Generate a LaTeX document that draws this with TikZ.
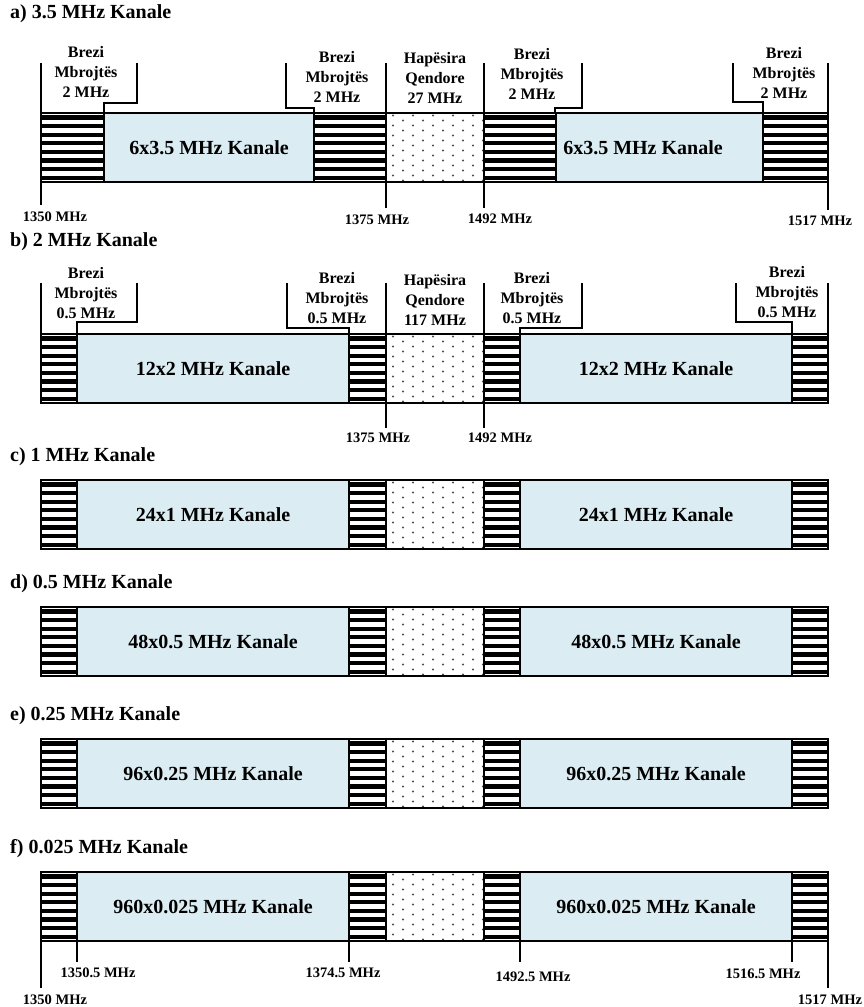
\documentclass[tikz,border=0pt]{standalone}
\usepackage{fontspec}
\setmainfont{Liberation Serif}
\definecolor{chan}{RGB}{219,237,243}

\tikzset{
  bar/.style={draw=black, line width=1.4pt},
  tick/.style={line width=1.2pt},
  ttl/.style={font=\bfseries\fontsize{20}{24}\selectfont, anchor=west, inner sep=0pt},
  chanlbl/.style={font=\bfseries\fontsize{20}{24}\selectfont, inner sep=0pt},
  lbl/.style={font=\bfseries\fontsize{16}{20}\selectfont, align=center, inner sep=0pt},
  freq/.style={font=\bfseries\fontsize{14.5}{16}\selectfont, inner sep=0pt}
}

% striped guard band: x from, x to, top
\newcommand{\guardband}[3]{%
  \fill[white] (#1,#3) rectangle (#2,#3+69);
  \foreach \k in {0,...,7}
    \fill[black] (#1,#3+2.3+\k*8.625) rectangle (#2,#3+6.5+\k*8.625);
  \draw[bar] (#1,#3) rectangle (#2,#3+69);
}

% dotted central gap: top
\newcommand{\gapband}[1]{%
  \fill[white] (386,#1) rectangle (484,#1+69);
  \foreach \j in {0,...,13} {
    \pgfmathsetmacro\off{mod(\j,2)*10}
    \foreach \i in {0,...,4}
      \fill[black!70] (393+\off+20*\i,#1+2.5+5*\j) circle (1.05pt);
  }
  \draw[bar] (386,#1) rectangle (484,#1+69);
}

% one band plan: top, x1, x2, x3, x4
\newcommand{\bandrow}[5]{%
  \guardband{41}{#2}{#1}
  \draw[bar, fill=chan] (#2,#1) rectangle (#3,#1+69);
  \guardband{#3}{386}{#1}
  \gapband{#1}
  \guardband{484}{#4}{#1}
  \draw[bar, fill=chan] (#4,#1) rectangle (#5,#1+69);
  \guardband{#5}{828}{#1}
  \draw[bar] (41,#1) rectangle (828,#1+69);
}

\begin{document}
\begin{tikzpicture}[x=1pt, y=-1pt]
  \useasboundingbox (0,0) rectangle (863,1007);

  % a) 3.5 MHz
  \node[ttl] (ta) at (10,14) {a) 3.5 MHz Kanale};
  \bandrow{113}{104}{314}{556}{763}
  \node[chanlbl] (la) at (209,148) {6x3.5 MHz Kanale};
  \node[chanlbl] (ra) at (643,148) {6x3.5 MHz Kanale};

  \draw[tick] (41,63) -- (41,205);
  \draw[tick] (137,63) |- (104,103) -- (104,113);
  \draw[tick] (286,63) |- (314,108) -- (314,113);
  \draw[tick] (386,63) -- (386,208);
  \draw[tick] (484,63) -- (484,208);
  \draw[tick] (582,63) |- (555,108) -- (555,113);
  \draw[tick] (733,63) |- (763,102) -- (763,113);
  \draw[tick] (828,63) -- (828,210);

  \node[lbl] (ga1) at (86,72) {Brezi\\Mbrojtës\\2 MHz};
  \node[lbl] (ga2) at (337,77) {Brezi\\Mbrojtës\\2 MHz};
  \node[lbl] (gapa) at (435,78) {Hapësira\\Qendore\\27 MHz};
  \node[lbl] (ga3) at (532,74) {Brezi\\Mbrojtës\\2 MHz};
  \node[lbl] (ga4) at (784,73) {Brezi\\Mbrojtës\\2 MHz};

  \node[freq] (fa1) at (55,217) {1350 MHz};
  \node[freq] (fa2) at (377,220) {1375 MHz};
  \node[freq] (fa3) at (500,219) {1492 MHz};
  \node[freq] (fa4) at (820,221) {1517 MHz};

  % b) 2 MHz
  \node[ttl] (tb) at (10,242) {b) 2 MHz Kanale};
  \bandrow{334}{77}{349}{520}{792}
  \node[chanlbl] (lb) at (213,368.5) {12x2 MHz Kanale};
  \node[chanlbl] (rb) at (656,368.5) {12x2 MHz Kanale};

  \draw[tick] (41,283) -- (41,334);
  \draw[tick] (137,283) |- (77,322) -- (77,334);
  \draw[tick] (287,283) |- (349,328) -- (349,334);
  \draw[tick] (386,283) -- (386,428);
  \draw[tick] (484,283) -- (484,428);
  \draw[tick] (582,283) |- (520,328) -- (520,334);
  \draw[tick] (736,283) |- (792,322) -- (792,334);
  \draw[tick] (828,283) -- (828,334);

  \node[lbl] (gb1) at (86,293) {Brezi\\Mbrojtës\\0.5 MHz};
  \node[lbl] (gb2) at (337,298) {Brezi\\Mbrojtës\\0.5 MHz};
  \node[lbl] (gapb) at (435,300) {Hapësira\\Qendore\\117 MHz};
  \node[lbl] (gb3) at (532,298) {Brezi\\Mbrojtës\\0.5 MHz};
  \node[lbl] (gb4) at (787,292) {Brezi\\Mbrojtës\\0.5 MHz};

  \node[freq] (fb1) at (378,438) {1375 MHz};
  \node[freq] (fb2) at (500,438) {1492 MHz};

  % c) to f)
  \foreach \y/\ttext/\ctext [count=\n] in {
      480/{c) 1 MHz Kanale}/{24x1 MHz Kanale},
      607/{d) 0.5 MHz Kanale}/{48x0.5 MHz Kanale},
      739/{e) 0.25 MHz Kanale}/{96x0.25 MHz Kanale},
      872/{f) 0.025 MHz Kanale}/{960x0.025 MHz Kanale}} {
    \node[ttl] (t\n) at (10,\y-23) {\ttext};
    \bandrow{\y}{77}{349}{520}{792}
    \node[chanlbl] (l\n) at (213,\y+34.5) {\ctext};
    \node[chanlbl] (r\n) at (656,\y+34.5) {\ctext};
  }

  \draw[tick] (41,941) -- (41,988);
  \draw[tick] (77,941) -- (77,962);
  \draw[tick] (349,941) -- (349,962);
  \draw[tick] (520,941) -- (520,962);
  \draw[tick] (792,941) -- (792,962);
  \draw[tick] (828,941) -- (828,988);

  \node[freq] (ff1) at (55,1000) {1350 MHz};
  \node[freq] (ff2) at (98,973) {1350.5 MHz};
  \node[freq] (ff3) at (343,973) {1374.5 MHz};
  \node[freq] (ff4) at (533,977) {1492.5 MHz};
  \node[freq] (ff5) at (763,974) {1516.5 MHz};
  \node[freq] (ff6) at (830,1000) {1517 MHz};
\end{tikzpicture}
\end{document}
